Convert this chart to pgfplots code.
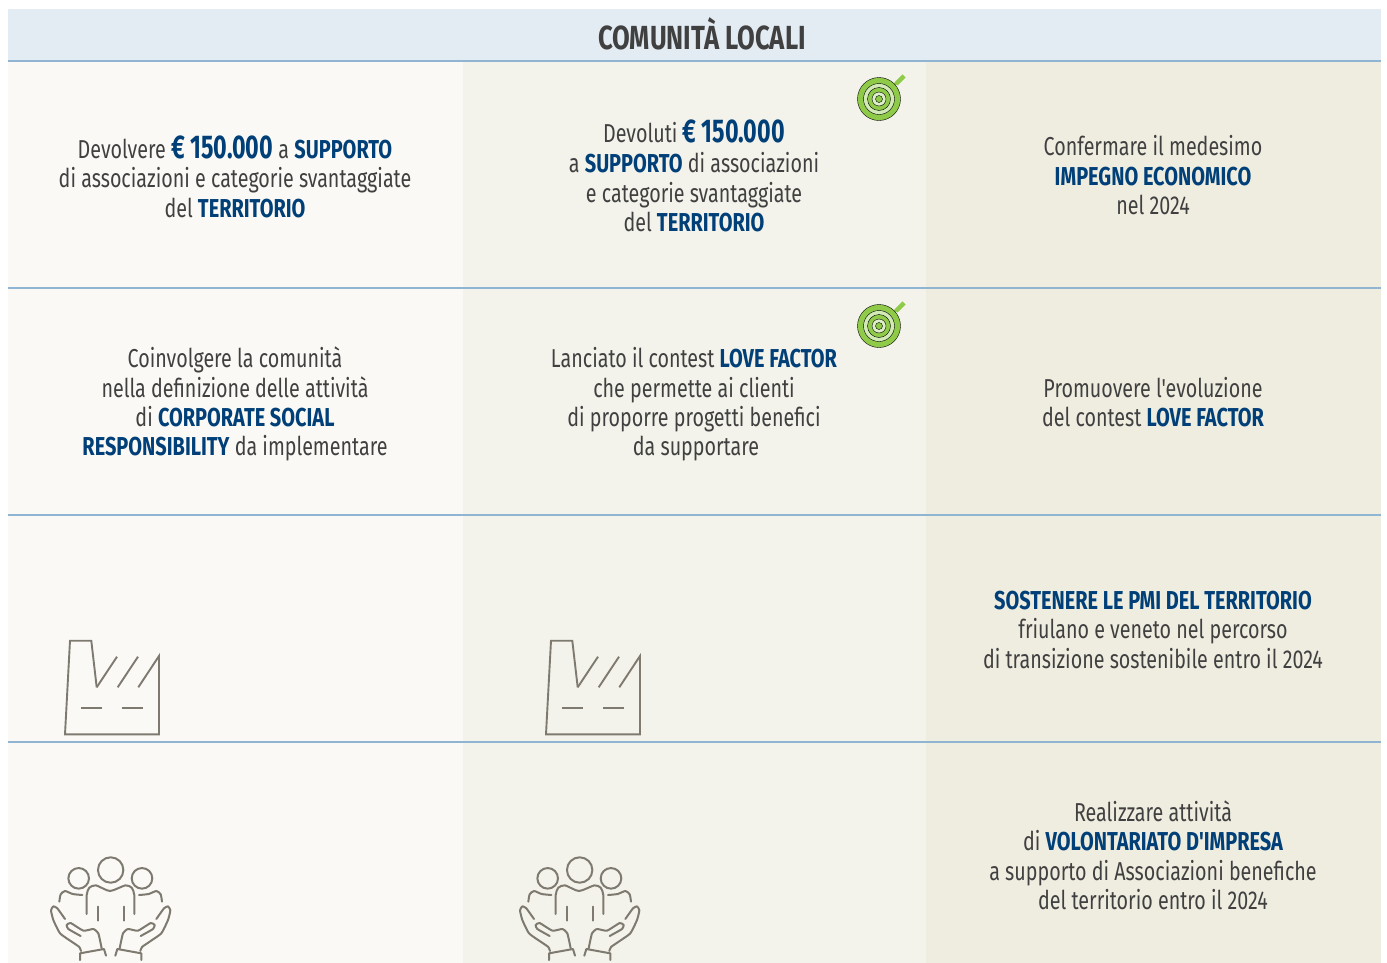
\documentclass[border=0pt]{standalone}
\usepackage{fontspec}
\usepackage{pgfplots}
\pgfplotsset{compat=1.18}
\newfontfamily\Rg[FakeStretch=0.76]{Fira Sans}
\newfontfamily\Bd[FakeStretch=0.77]{Fira Sans Bold}
\newfontfamily\AmtF[FakeStretch=0.71]{Fira Sans Bold}
\definecolor{hdr}{HTML}{E3EBF3}
\definecolor{ca}{HTML}{FAF9F5}
\definecolor{cb}{HTML}{F3F3EB}
\definecolor{cc}{HTML}{EFEDE0}
\definecolor{rule}{HTML}{8FB5D2}
\definecolor{txt}{HTML}{404040}
\definecolor{kb}{HTML}{003F77}
\definecolor{ico}{HTML}{7F7A70}
\definecolor{grn}{HTML}{8FCB48}
\newcommand\K[1]{{\Bd\color{kb}#1}}
\newcommand\Tx[3]{\node[anchor=base,inner sep=0pt,text=txt] at (axis cs:#1,#2) {\fontsize{26}{30}\selectfont\Rg #3};}
\newcommand\Amt{{\AmtF\color{kb}\fontsize{33}{33}\selectfont € 150.000}}
\newcommand\Band[3]{\addplot[fill=#3,draw=none] coordinates {(#1,61) (#2,61) (#2,963) (#1,963)} --cycle;}
\newcommand\HRule[1]{\addplot[rule,line width=1.2bp] coordinates {(8,#1) (1381,#1)};}
\newcommand\Target[1]{%
 \addplot[only marks,mark=*,mark size=21.5bp,mark options={draw=none,fill=grn}] coordinates {(#1)};
 \addplot[only marks,mark=*,mark size=15.5bp,mark options={draw=none,fill=white!60!grn}] coordinates {(#1)};
 \addplot[only marks,mark=*,mark size=11.5bp,mark options={draw=none,fill=grn}] coordinates {(#1)};
 \addplot[only marks,mark=*,mark size=7bp,mark options={draw=none,fill=white!70!grn}] coordinates {(#1)};
 \addplot[only marks,mark=*,mark size=3.5bp,mark options={draw=none,fill=grn}] coordinates {(#1)};
}
\newcommand\Factory[1]{%
 \pgfplotsset{ficon/.style={ico,line width=1.9bp,x filter/.expression={x+#1}}}
 \addplot[ficon,line join=miter] coordinates {(96.7,687.3) (117,656.7)};
 \addplot[ficon] coordinates {(117.7,687.3) (138,656.7)};
 \addplot[ficon] coordinates {(138.3,687.3) (159,656) (159,734.3) (65,734.3) (70,640.7) (91.3,640.7) (96.7,687.3)};
 \addplot[ficon] coordinates {(81,708.3) (101.7,708.3)};
 \addplot[ficon] coordinates {(122.3,708.3) (143.3,708.3)};
}
\newcommand\People[2]{%
 \pgfplotsset{picon/.style={ico,line width=2bp,line cap=round,line join=round,x filter/.expression={30+x/3+#1},y filter/.expression={845+y/3}}}
 \addplot[picon,only marks,mark=*,mark size=12.7bp,mark options={draw=ico,fill=#2,line width=2bp}] coordinates {(242,75)};
 \addplot[picon,only marks,mark=*,mark size=10.3bp,mark options={draw=ico,fill=#2,line width=2bp}] coordinates {(146,100) (336,100)};
 \addplot[picon,smooth,tension=0.4] coordinates {(170,207) (170,150) (178,128) (198,121) (240,138) (286,121) (305,128) (313,150) (313,207)};
 \addplot[picon,smooth,tension=0.4] coordinates {(88,170) (92,148) (105,138) (128,147) (157,150)};
 \addplot[picon,smooth,tension=0.4] coordinates {(396,170) (392,148) (379,138) (356,147) (327,150)};
 \addplot[picon] coordinates {(204,185) (204,227)};
 \addplot[picon] coordinates {(282,185) (282,227)};
 \addplot[picon,smooth,tension=0.3] coordinates {(105,222) (82,190) (70,184) (63,196) (70,225) (90,265) (125,290) (148,306) (153,318)};
 \addplot[picon,smooth,tension=0.3] coordinates {(152,273) (115,252) (110,240) (122,234) (160,257) (190,252) (205,265) (215,310)};
 \addplot[picon] coordinates {(150,345) (150,325) (222,312) (228,332)};
 \addplot[picon,smooth,tension=0.3] coordinates {(379,222) (402,190) (414,184) (421,196) (414,225) (394,265) (359,290) (336,306) (331,318)};
 \addplot[picon,smooth,tension=0.3] coordinates {(332,273) (369,252) (374,240) (362,234) (324,257) (294,252) (279,265) (269,310)};
 \addplot[picon] coordinates {(334,345) (334,325) (262,312) (256,332)};
}
\begin{document}
\begin{tikzpicture}
\begin{axis}[x=1bp,y=1bp,xmin=0,xmax=1387,ymin=0,ymax=963,y dir=reverse,
  axis lines=none,scale only axis,clip=true,ticks=none]
\addplot[fill=white,draw=none] coordinates {(0,0) (1387,0) (1387,963) (0,963)} --cycle;
\addplot[fill=hdr,draw=none] coordinates {(8,9) (1381,9) (1381,61) (8,61)} --cycle;
\Band{8}{463}{ca}
\Band{463}{926}{cb}
\Band{926}{1381}{cc}
\HRule{61}\HRule{288}\HRule{515}\HRule{742}
\Target{879,99}
\addplot[grn,line width=2.5bp] coordinates {(879,99) (902,78)};
\addplot[grn,line width=4.5bp] coordinates {(896,84) (904,76)};
\Target{879,326}
\addplot[grn,line width=2.5bp] coordinates {(879,326) (902,305)};
\addplot[grn,line width=4.5bp] coordinates {(896,311) (904,303)};
\Factory{0}
\Factory{481}
\People{0}{ca}
\People{469}{cb}
\node[anchor=base,inner sep=0pt,text=txt] at (axis cs:702,49) {\fontsize{33.5}{33.5}\selectfont\Bd COMUNITÀ LOCALI};
% column 1
\Tx{235}{158}{Devolvere \Amt{} a \K{SUPPORTO}}
\Tx{235}{187}{di associazioni e categorie svantaggiate}
\Tx{235}{217}{del \K{TERRITORIO}}
\Tx{235}{367}{Coinvolgere la comunità}
\Tx{235}{397}{nella definizione delle attività}
\Tx{235}{426}{di \K{CORPORATE SOCIAL}}
\Tx{235}{455}{\K{RESPONSIBILITY} da implementare}
% column 2
\Tx{694}{142}{Devoluti \Amt}
\Tx{694}{172}{a \K{SUPPORTO} di associazioni}
\Tx{694}{202}{e categorie svantaggiate}
\Tx{694}{231}{del \K{TERRITORIO}}
\Tx{694}{367}{Lanciato il contest \K{LOVE FACTOR}}
\Tx{694}{397}{che permette ai clienti}
\Tx{694}{426}{di proporre progetti benefici}
\Tx{696}{455}{da supportare}
% column 3
\Tx{1153}{155}{Confermare il medesimo}
\Tx{1153}{185}{\K{IMPEGNO ECONOMICO}}
\Tx{1153}{214}{nel 2024}
\Tx{1153}{397}{Promuovere l'evoluzione}
\Tx{1153}{426}{del contest \K{LOVE FACTOR}}
\Tx{1153}{609}{\K{SOSTENERE LE PMI DEL TERRITORIO}}
\Tx{1153}{638}{friulano e veneto nel percorso}
\Tx{1153}{668}{di transizione sostenibile entro il 2024}
\Tx{1153}{821}{Realizzare attività}
\Tx{1153}{850}{di \K{VOLONTARIATO D'IMPRESA}}
\Tx{1153}{880}{a supporto di Associazioni benefiche}
\Tx{1153}{909}{del territorio entro il 2024}
\end{axis}
\end{tikzpicture}
\end{document}
